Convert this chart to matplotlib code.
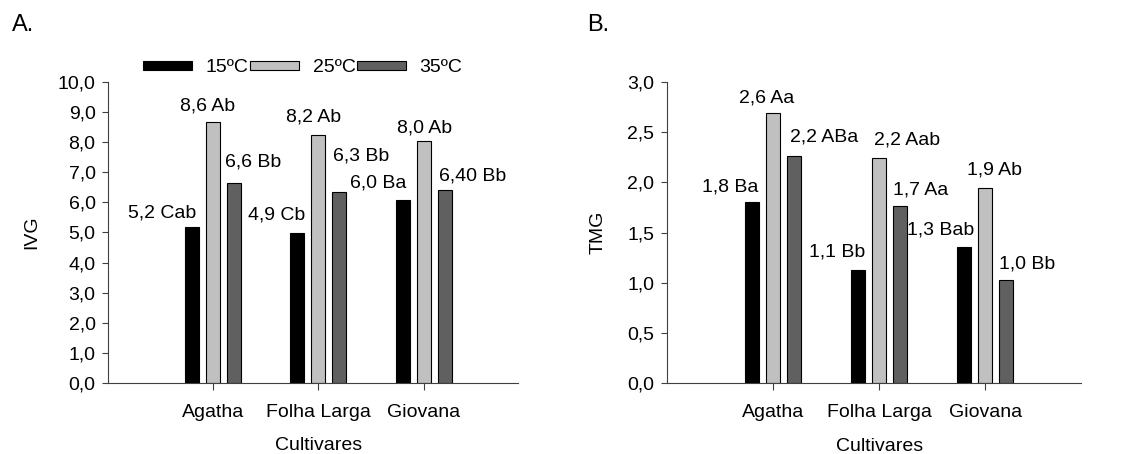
import matplotlib
matplotlib.use("Agg")
import matplotlib.pyplot as plt
from matplotlib.patches import Patch

plt.rcParams['font.family'] = ['Liberation Sans', 'DejaVu Sans']
plt.rcParams['font.size'] = 14

# 数据
cultivares = ["Agatha", "Folha Larga", "Giovana"]
temperaturas = ["15ºC", "25ºC", "35ºC"]
cores = ["#000000", "#c0c0c0", "#606060"]

ivg_15 = [5.19, 4.97, 6.07]
ivg_25 = [8.67, 8.23, 8.03]
ivg_35 = [6.65, 6.35, 6.40]
ivg_rotulos = [["5,2 Cab", "4,9 Cb", "6,0 Ba"],
               ["8,6 Ab", "8,2 Ab", "8,0 Ab"],
               ["6,6 Bb", "6,3 Bb", "6,40 Bb"]]

tmg_15 = [1.80, 1.13, 1.36]
tmg_25 = [2.69, 2.24, 1.94]
tmg_35 = [2.26, 1.76, 1.03]
tmg_rotulos = [["1,8 Ba", "1,1 Bb", "1,3 Bab"],
               ["2,6 Aa", "2,2 Aab", "1,9 Ab"],
               ["2,2 ABa", "1,7 Aa", "1,0 Bb"]]

ivg_ticks = [0, 1, 2, 3, 4, 5, 6, 7, 8, 9, 10]
tmg_ticks = [0, 0.5, 1.0, 1.5, 2.0, 2.5, 3.0]

# 标签相对柱顶的偏移 (x: 类别单位, y: 数值单位)
ivg_desloc = [[(-0.29, 0.46), (-0.20, 0.61), (-0.23, 0.58)],
              [(-0.05, 0.53), (-0.05, 0.61), (0.01, 0.43)],
              [(0.18, 0.69), (0.21, 1.20), (0.27, 0.48)]]
tmg_desloc = [[(-0.20, 0.15), (-0.20, 0.18), (-0.22, 0.17)],
              [(-0.06, 0.15), (0.26, 0.18), (0.09, 0.18)],
              [(0.28, 0.19), (0.19, 0.16), (0.20, 0.16)]]

fig = plt.figure(figsize=(11.24, 4.54), dpi=100)
ax_a = fig.add_axes([0.0961, 0.1564, 0.365, 0.663])
ax_b = fig.add_axes([0.5934, 0.1557, 0.368, 0.664])


def painel(ax, series, rotulos, desloc, ticks, ylabel, ylabel_x):
    x = range(1, len(cultivares) + 1)
    for i, valores in enumerate(series):
        pos = [p + (i - 1) * 0.2 for p in x]
        ax.bar(pos, valores, width=0.133, color=cores[i], edgecolor="#000000", linewidth=0.8)
        for j, v in enumerate(valores):
            dx, dy = desloc[i][j]
            ax.text(pos[j] + dx, v + dy, rotulos[i][j], ha="center", va="center")
    ax.set_xlim(0, 3.9)
    ax.set_ylim(0, ticks[-1])
    ax.set_xticks(list(x))
    ax.set_xticklabels(cultivares)
    ax.set_yticks(ticks)
    ax.set_yticklabels([("%.1f" % t).replace(".", ",") for t in ticks])
    ax.spines["top"].set_visible(False)
    ax.spines["right"].set_visible(False)
    ax.spines["left"].set_color("#404040")
    ax.spines["bottom"].set_color("#404040")
    ax.tick_params(axis="y", length=4, pad=5, color="#404040")
    ax.tick_params(axis="x", length=5, pad=10, color="#404040")
    ax.set_ylabel(ylabel)
    ax.yaxis.set_label_coords(ylabel_x, 0.5)
    ax.set_xlabel("Cultivares")
    ax.xaxis.set_label_coords(2 / 3.9, -0.18)


painel(ax_a, [ivg_15, ivg_25, ivg_35], ivg_rotulos, ivg_desloc, ivg_ticks, "IVG", -0.166)
painel(ax_b, [tmg_15, tmg_25, tmg_35], tmg_rotulos, tmg_desloc, tmg_ticks, "TMG", -0.145)

# 图例
handles = [Patch(facecolor=c, edgecolor="#000000", linewidth=0.8) for c in cores]
fig.legend(handles, temperaturas, loc="center", bbox_to_anchor=(303 / 1124, 1 - 68 / 454),
           ncol=3, frameon=False, handlelength=2.5, handleheight=0.35,
           handletextpad=0.7, columnspacing=0.1, borderpad=0)

fig.text(12 / 1124, 1 - 25 / 454, "A.", fontsize=17, va="center")
fig.text(587 / 1124, 1 - 25 / 454, "B.", fontsize=17, va="center")

plt.savefig("out.png")
